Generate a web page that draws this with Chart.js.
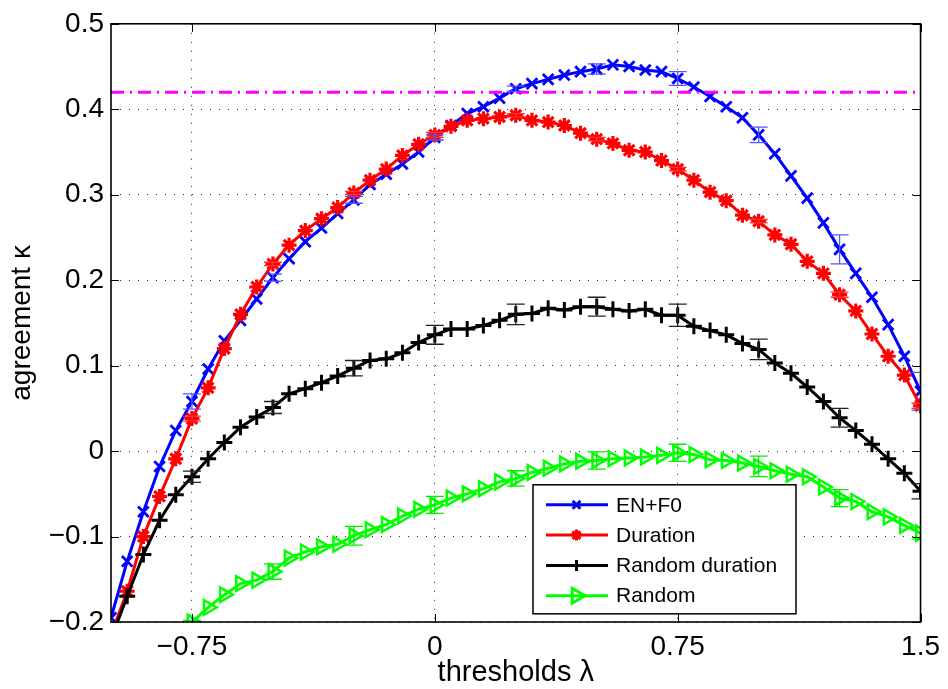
<!DOCTYPE html>
<html>
<head>
<meta charset="utf-8">
<script src="https://cdn.jsdelivr.net/npm/chart.js@4.4.1/dist/chart.umd.min.js"></script>
<style>
  html, body { margin: 0; padding: 0; background: #fff; }
  #chart { display: block; }
</style>
</head>
<body>
<canvas id="chart" width="948" height="689"></canvas>
<script>
/* global Chart */
"use strict";

// thresholds lambda (x values)
var thresholds = [
  -1.00, -0.95, -0.90, -0.85, -0.80, -0.75, -0.70, -0.65, -0.60, -0.55,
  -0.50, -0.45, -0.40, -0.35, -0.30, -0.25, -0.20, -0.15, -0.10, -0.05,
   0.00,  0.05,  0.10,  0.15,  0.20,  0.25,  0.30,  0.35,  0.40,  0.45,
   0.50,  0.55,  0.60,  0.65,  0.70,  0.75,  0.80,  0.85,  0.90,  0.95,
   1.00,  1.05,  1.10,  1.15,  1.20,  1.25,  1.30,  1.35,  1.40,  1.45,
   1.50
];

// agreement kappa per series
var enF0 = [
  -0.195, -0.129, -0.071, -0.018, 0.024, 0.058, 0.096, 0.129, 0.153, 0.178,
   0.203,  0.225,  0.245,  0.261, 0.278, 0.294, 0.312, 0.324, 0.336, 0.350,
   0.367,  0.381,  0.395,  0.403, 0.413, 0.424, 0.430, 0.435, 0.440, 0.444,
   0.447,  0.452,  0.450,  0.446, 0.444, 0.436, 0.426, 0.415, 0.403, 0.390,
   0.370,  0.348,  0.322,  0.296, 0.267, 0.236, 0.208, 0.180, 0.148, 0.111,
   0.070
];
var duration = [
  -0.215, -0.164, -0.100, -0.053, -0.009, 0.038, 0.074, 0.120, 0.160, 0.192,
   0.219,  0.241,  0.258,  0.272,  0.285, 0.302, 0.317, 0.330, 0.346, 0.359,
   0.370,  0.380,  0.387,  0.389,  0.391, 0.393, 0.387, 0.385, 0.381, 0.372,
   0.365,  0.360,  0.352,  0.350,  0.340, 0.330, 0.317, 0.303, 0.293, 0.276,
   0.269,  0.253,  0.242,  0.222,  0.208, 0.183, 0.164, 0.137, 0.111, 0.089,
   0.053
];
var randomDuration = [
  -0.220, -0.170, -0.121, -0.081, -0.051, -0.030, -0.009, 0.010, 0.028, 0.040,
   0.051,  0.067,  0.073,  0.080,  0.088,  0.097,  0.106, 0.108, 0.115, 0.127,
   0.136,  0.143,  0.143,  0.147,  0.153,  0.160,  0.161, 0.167, 0.165, 0.169,
   0.169,  0.166,  0.164,  0.166,  0.159,  0.159,  0.146, 0.141, 0.136, 0.126,
   0.119,  0.103,  0.091,  0.075,  0.058,  0.039,  0.024, 0.008, -0.009, -0.026,
  -0.047
];
var random = [
   null,   null,   null,   null,   null, -0.200, -0.183, -0.168, -0.155, -0.151,
  -0.141, -0.125, -0.118, -0.112, -0.109, -0.099, -0.092, -0.086, -0.076, -0.068,
  -0.063, -0.055, -0.050, -0.044, -0.036, -0.032, -0.025, -0.020, -0.015, -0.012,
  -0.011, -0.009, -0.008, -0.007, -0.005, -0.002, -0.004, -0.010, -0.011, -0.014,
  -0.018, -0.023, -0.027, -0.030, -0.042, -0.055, -0.059, -0.071, -0.077, -0.087,
  -0.096
];

// error bars (half widths) at every fifth threshold
var errThresholds = [-0.75, -0.50, -0.25, 0.00, 0.25, 0.50, 0.75, 1.00, 1.25, 1.50];
var enF0Err           = [0.009, 0.004, 0.004, 0.003, 0.003, 0.006, 0.008, 0.009, 0.017, 0.022];
var durationErr       = [0.003, 0.002, 0.002, 0.003, 0.002, 0.002, 0.002, 0.002, 0.003, 0.003];
var randomDurationErr = [0.0065, 0.007, 0.009, 0.011, 0.012, 0.011, 0.013, 0.012, 0.011, 0.009];
var randomErr         = [0.002, 0.009, 0.011, 0.010, 0.009, 0.010, 0.010, 0.012, 0.010, 0.007];

// reference level (dash-dot line)
var referenceKappa = 0.42;

var xTicks = [-0.75, 0, 0.75, 1.5];
var FONT = '"Liberation Sans", Arial, Helvetica, sans-serif';

function points(values) {
  var out = [];
  for (var i = 0; i < thresholds.length; i++) {
    if (values[i] !== null) out.push({ x: thresholds[i], y: values[i] });
  }
  return out;
}
function errors(values, errs) {
  return errThresholds.map(function(t, i) {
    return { x: t, y: values[thresholds.indexOf(t)], e: errs[i] };
  });
}
function fmt(v) {
  var r = Math.round(v * 100) / 100;
  return r < 0 ? '\u2212' + String(-r) : String(r);
}

// Error bars drawn through the chart scales
var errorBarsPlugin = {
  id: 'errorBars',
  afterDatasetsDraw: function(chart) {
    var ctx = chart.ctx, a = chart.chartArea;
    var xs = chart.scales.x, ys = chart.scales.y;
    ctx.save();
    ctx.beginPath();
    ctx.rect(a.left, a.top, a.right - a.left, a.bottom - a.top);
    ctx.clip();
    chart.data.datasets.forEach(function(ds) {
      if (!ds.errorBars) return;
      ctx.strokeStyle = ds.errorColor;
      ctx.lineWidth = 1.3;
      ds.errorBars.forEach(function(p) {
        var px = xs.getPixelForValue(p.x);
        var y1 = ys.getPixelForValue(p.y + p.e), y2 = ys.getPixelForValue(p.y - p.e);
        ctx.beginPath();
        ctx.moveTo(px, y1); ctx.lineTo(px, y2);
        ctx.moveTo(px - 9, y1); ctx.lineTo(px + 9, y1);
        ctx.moveTo(px - 9, y2); ctx.lineTo(px + 9, y2);
        ctx.stroke();
      });
    });
    ctx.restore();
  }
};

// Axes box, inward ticks and the legend inside the plot
var framePlugin = {
  id: 'frame',
  afterDraw: function(chart) {
    var ctx = chart.ctx, a = chart.chartArea;
    var xs = chart.scales.x, ys = chart.scales.y;
    ctx.save();
    ctx.strokeStyle = '#000';
    ctx.lineWidth = 1;
    ctx.beginPath();
    xs.ticks.forEach(function(t) {
      var px = Math.round(xs.getPixelForValue(t.value)) + 0.5;
      ctx.moveTo(px, a.bottom); ctx.lineTo(px, a.bottom - 8);
      ctx.moveTo(px, a.top); ctx.lineTo(px, a.top + 8);
    });
    ys.ticks.forEach(function(t) {
      var py = Math.round(ys.getPixelForValue(t.value)) + 0.5;
      ctx.moveTo(a.left, py); ctx.lineTo(a.left + 8, py);
      ctx.moveTo(a.right, py); ctx.lineTo(a.right - 8, py);
    });
    ctx.stroke();
    ctx.lineWidth = 1.6;
    ctx.strokeRect(a.left, a.top, a.right - a.left, a.bottom - a.top);

    // legend
    var lx = a.left + 422, ly = a.top + 461, lw = 263, lh = 129;
    ctx.fillStyle = '#fff';
    ctx.fillRect(lx, ly, lw, lh);
    ctx.lineWidth = 1.5;
    ctx.strokeRect(lx, ly, lw, lh);
    var items = chart.data.datasets.filter(function(d) { return d.inLegend; })
      .sort(function(p, q) { return p.legendIndex - q.legendIndex; });
    ctx.font = '21px ' + FONT;
    ctx.textBaseline = 'middle';
    ctx.textAlign = 'left';
    items.forEach(function(d, i) {
      var cy = ly + 20 + i * 30.3;
      ctx.strokeStyle = d.borderColor;
      ctx.lineWidth = 3;
      ctx.beginPath();
      ctx.moveTo(lx + 13, cy); ctx.lineTo(lx + 75, cy);
      ctx.stroke();
      ctx.fillStyle = d.pointBackgroundColor;
      if (Chart.helpers && Chart.helpers.drawPoint) {
        Chart.helpers.drawPoint(ctx, {
          pointStyle: d.pointStyle, rotation: d.pointRotation || 0,
          radius: d.pointStyle === 'triangle' ? 8.5 : 5.5, borderWidth: 2.5
        }, lx + 43.5, cy);
      }
      ctx.fillStyle = '#000';
      ctx.fillText(d.label, lx + 83, cy + 1);
    });
    ctx.restore();
  }
};

var ctx = document.getElementById('chart').getContext('2d');
new Chart(ctx, {
  type: 'line',
  data: {
    datasets: [
      {
        label: 'reference', data: [{ x: -1, y: referenceKappa }, { x: 1.5, y: referenceKappa }],
        borderColor: '#ff00ff', borderWidth: 3, borderDash: [13, 6, 2, 6], pointRadius: 0, order: 0
      },
      {
        label: 'Random', data: points(random), errorBars: errors(random, randomErr), errorColor: '#00ee00',
        borderColor: '#00ff00', borderWidth: 3, pointStyle: 'triangle', pointRotation: 90,
        pointRadius: 8.5, pointBorderWidth: 2.5, pointBorderColor: '#00ff00',
        pointBackgroundColor: 'rgba(0,0,0,0)', order: 1, inLegend: true, legendIndex: 3
      },
      {
        label: 'Random duration', data: points(randomDuration), errorBars: errors(randomDuration, randomDurationErr),
        errorColor: '#222', borderColor: '#000000', borderWidth: 3, pointStyle: 'cross',
        pointRadius: 8, pointBorderWidth: 3, pointBorderColor: '#000', pointBackgroundColor: '#000',
        order: 2, inLegend: true, legendIndex: 2
      },
      {
        label: 'Duration', data: points(duration), errorBars: errors(duration, durationErr), errorColor: '#ff3333',
        borderColor: '#ff0000', borderWidth: 3, pointStyle: 'star',
        pointRadius: 7.5, pointBorderWidth: 3.2, pointBorderColor: '#ff0000', pointBackgroundColor: '#ff0000',
        order: 3, inLegend: true, legendIndex: 1
      },
      {
        label: 'EN+F0', data: points(enF0), errorBars: errors(enF0, enF0Err), errorColor: '#5555ff',
        borderColor: '#0000ff', borderWidth: 3, pointStyle: 'crossRot',
        pointRadius: 7.5, pointBorderWidth: 2.8, pointBorderColor: '#0000ff', pointBackgroundColor: '#0000ff',
        order: 4, inLegend: true, legendIndex: 0
      }
    ]
  },
  options: {
    responsive: false,
    animation: false,
    devicePixelRatio: 1,
    layout: { padding: { top: 23, right: 24, left: 0, bottom: 0 } },
    elements: { line: { tension: 0 } },
    plugins: { legend: { display: false }, tooltip: { enabled: false } },
    scales: {
      x: {
        type: 'linear', min: -1, max: 1.5,
        afterBuildTicks: function(scale) {
          scale.ticks = xTicks.map(function(v) { return { value: v }; });
        },
        afterFit: function(scale) { scale.height = 67; },
        ticks: {
          autoSkip: false, maxRotation: 0, padding: 8, color: '#000',
          font: { family: FONT, size: 28 },
          callback: function(v) { return fmt(v); }
        },
        grid: { color: 'rgba(0,0,0,0.85)', lineWidth: 1, drawTicks: false },
        border: { display: false, dash: [1, 8] },
        title: {
          display: true, text: 'thresholds \u03bb', color: '#000',
          font: { family: FONT, size: 29, lineHeight: 1.1 }, padding: { top: 0, bottom: 0 }
        }
      },
      y: {
        type: 'linear', min: -0.2, max: 0.5,
        afterFit: function(scale) { scale.width = 111; },
        ticks: {
          stepSize: 0.1, padding: 7, color: '#000',
          font: { family: FONT, size: 28 },
          callback: function(v) { return fmt(v); }
        },
        grid: { color: 'rgba(0,0,0,0.85)', lineWidth: 1, drawTicks: false },
        border: { display: false, dash: [1, 8] },
        title: {
          display: true, text: 'agreement \u03ba', color: '#000',
          font: { family: FONT, size: 28, lineHeight: 1.1 }, padding: { top: 7, bottom: 0 }
        }
      }
    }
  },
  plugins: [errorBarsPlugin, framePlugin]
});
</script>
</body>
</html>
